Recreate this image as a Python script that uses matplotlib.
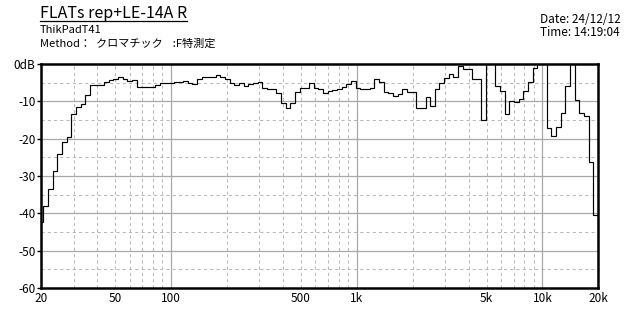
import matplotlib.pyplot as plt
from matplotlib.lines import Line2D
import numpy as np

plt.rcParams['font.family'] = ['Noto Sans CJK JP', 'DejaVu Sans']

# 1/12-octave bands starting at 20 Hz, level in dB (values above 0 are clipped by the frame)
band_index = np.arange(0, 121)
levels = [
    -42.4, -38.0, -33.5, -28.7, -24.2, -21.0, -19.6, -13.4, -11.4, -10.7,
    -8.3, -5.6, -5.6, -5.6, -4.9, -4.3, -4.0, -3.6, -4.1, -4.6,
    -4.4, -6.2, -6.2, -6.2, -6.2, -5.7, -5.2, -5.2, -5.2, -4.7,
    -4.7, -4.5, -5.0, -5.4, -4.1, -3.6, -3.6, -3.6, -3.0, -3.6,
    -4.0, -5.2, -5.6, -5.0, -5.8, -5.4, -5.0, -4.9, -6.3, -6.8,
    -6.8, -7.9, -10.4, -11.9, -10.4, -7.4, -6.3, -6.3, -5.0, -6.5,
    -6.8, -7.9, -7.2, -7.0, -6.7, -6.1, -5.4, -4.5, -6.5, -6.8,
    -6.8, -6.5, -4.1, -4.7, -7.6, -7.9, -8.5, -8.1, -6.8, -7.4,
    -7.4, -11.7, -11.9, -8.8, -11.3, -6.8, -5.0, -3.8, -2.7, -3.4,
    -0.5, -1.4, -1.4, -4.1, -4.1, -15.1, 1.5, 1.5, -6.0, -7.3,
    -13.4, -9.8, -10.2, -9.3, -7.1, -4.8, -1.1, 1.5, 1.5, -17.1,
    -19.4, -17.0, -13.1, -6.0, 1.5, -9.6, -13.1, -13.8, -26.3, -40.5,
    -65.0,
]

centers = 20 * 2 ** (band_index / 12)
edges = np.concatenate([centers * 2 ** (-1 / 24), [centers[-1] * 2 ** (1 / 24)]])

x_ticks = [20, 50, 100, 500, 1000, 5000, 10000, 20000]
x_labels = ['20', '50', '100', '500', '1k', '5k', '10k', '20k']
y_ticks = [0, -10, -20, -30, -40, -50, -60]
y_labels = ['0dB', '-10', '-20', '-30', '-40', '-50', '-60']
solid_x = [100, 1000, 10000]
dashed_x = [30, 40, 50, 60, 70, 80, 90, 200, 300, 400, 500, 600, 700, 800, 900,
            2000, 3000, 4000, 5000, 6000, 7000, 8000, 9000]
dashed_y = [-5, -15, -25, -35, -45, -55]

fig = plt.figure(figsize=(6.4, 3.2), dpi=100)
ax = fig.add_axes([0.064, 0.1, 0.871, 0.7])
ax.set_xscale('log')
ax.set_xlim(20, 20000)
ax.set_ylim(-60, 0)

for x in dashed_x:
    ax.axvline(x, color='#b8b8b8', lw=0.75, dashes=(3, 3), zorder=1)
for y in dashed_y:
    ax.axhline(y, color='#b8b8b8', lw=0.75, dashes=(3, 3), zorder=1)
for x in solid_x:
    ax.axvline(x, color='#a8a8a8', lw=0.9, zorder=1)
for y in y_ticks[1:-1]:
    ax.axhline(y, color='#a8a8a8', lw=0.9, zorder=1)

ax.stairs(levels, edges, baseline=None, color='black', lw=0.85, zorder=3)

ax.set_xticks(x_ticks)
ax.set_xticklabels(x_labels)
ax.xaxis.set_minor_locator(plt.NullLocator())
ax.set_yticks(y_ticks)
ax.set_yticklabels(y_labels)
ax.tick_params(axis='both', labelsize=8.5, colors='black', length=3, width=1, pad=1)
ax.tick_params(axis='x', length=0, pad=3)
for s in ax.spines.values():
    s.set_linewidth(1.8)
    s.set_color('black')

title = fig.text(0.0625, 0.958, 'FLATs rep+LE-14A R', fontsize=11.5, va='center', ha='left')
fig.text(0.0625, 0.905, 'ThikPadT41', fontsize=8, va='center', ha='left')
fig.text(0.0625, 0.865, 'Method：  クロマチック    :F特測定', fontsize=8, va='center', ha='left')
fig.text(0.843, 0.94, 'Date: 24/12/12', fontsize=8.5, va='center', ha='left')
fig.text(0.843, 0.9, 'Time: 14:19:04', fontsize=8.5, va='center', ha='left')

fig.canvas.draw()
bb = title.get_window_extent().transformed(fig.transFigure.inverted())
fig.add_artist(Line2D([bb.x0, bb.x1], [bb.y0 + 0.004, bb.y0 + 0.004], color='black', lw=0.9))

fig.savefig('out.png', dpi=100)
